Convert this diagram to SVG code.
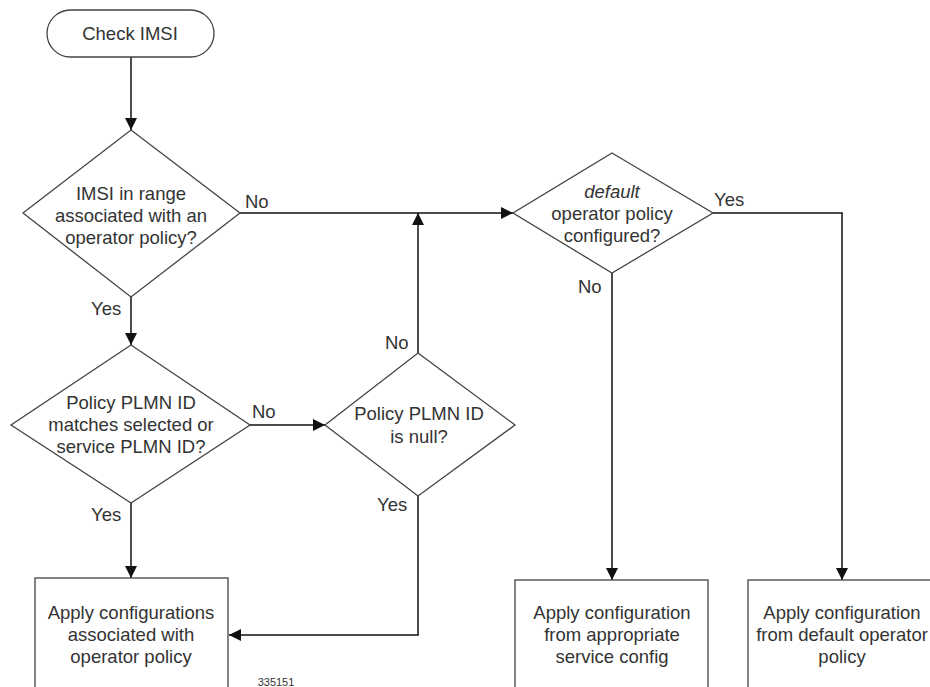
<svg xmlns="http://www.w3.org/2000/svg" width="930" height="687" viewBox="0 0 930 687">
<style>
text{font-family:"Liberation Sans",Arial,sans-serif;font-size:18.5px;fill:#333;text-anchor:middle}
.lbl{text-anchor:start}
.shape{fill:#fff;stroke:#444;stroke-width:1.3}
.conn{fill:none;stroke:#111;stroke-width:1.5}
</style>
<defs>
<marker id="arr" viewBox="0 0 12 12" refX="12" refY="6" markerWidth="12" markerHeight="12" markerUnits="userSpaceOnUse" orient="auto">
<path d="M0,0 L12,6 L0,12 z" fill="#111"/>
</marker>
</defs>
<rect width="930" height="687" fill="#fff"/>
<g id="connectors">
<path class="conn" d="M131,57 V130" marker-end="url(#arr)"/>
<path class="conn" d="M131,297 V345" marker-end="url(#arr)"/>
<path class="conn" d="M250,425 H325" marker-end="url(#arr)"/>
<path class="conn" d="M131,503 V578" marker-end="url(#arr)"/>
<path class="conn" d="M240,213 H513" marker-end="url(#arr)"/>
<path class="conn" d="M418,353 V213" marker-end="url(#arr)"/>
<path class="conn" d="M418,496 V635 H229" marker-end="url(#arr)"/>
<path class="conn" d="M612,273 V580" marker-end="url(#arr)"/>
<path class="conn" d="M713,213 H842 V580" marker-end="url(#arr)"/>
<text class="lbl" x="245" y="208">No</text>
<text class="lbl" x="91" y="315">Yes</text>
<text class="lbl" x="252" y="418">No</text>
<text class="lbl" x="91" y="521">Yes</text>
<text class="lbl" x="385" y="349">No</text>
<text class="lbl" x="377" y="511">Yes</text>
<text class="lbl" x="714" y="206">Yes</text>
<text class="lbl" x="578" y="293">No</text>
</g>
<g id="start">
<rect class="shape" x="47" y="10" width="167" height="47" rx="23.5"/>
<text x="130" y="40">Check IMSI</text>
</g>
<g id="d1">
<polygon class="shape" points="131,130 240,213 131,297 23,213"/>
<text x="131" y="200">IMSI in range</text>
<text x="131" y="222">associated with an</text>
<text x="131" y="244">operator policy?</text>
</g>
<g id="d2">
<polygon class="shape" points="131,345 250,425 131,503 11,425"/>
<text x="131" y="409">Policy PLMN ID</text>
<text x="131" y="431">matches selected or</text>
<text x="131" y="453">service PLMN ID?</text>
</g>
<g id="d3">
<polygon class="shape" points="418,353 515,425 418,496 325,425"/>
<text x="419" y="420">Policy PLMN ID</text>
<text x="419" y="443">is null?</text>
</g>
<g id="d4">
<polygon class="shape" points="612,153 713,213 612,273 513,213"/>
<text x="612" y="198" font-style="italic">default</text>
<text x="612" y="220">operator policy</text>
<text x="612" y="242">configured?</text>
</g>
<g id="box1">
<rect class="shape" x="35" y="578" width="193" height="130"/>
<text x="131" y="619">Apply configurations</text>
<text x="131" y="641">associated with</text>
<text x="131" y="663">operator policy</text>
</g>
<g id="box2">
<rect class="shape" x="515" y="580" width="193" height="130"/>
<text x="612" y="619">Apply configuration</text>
<text x="612" y="641">from appropriate</text>
<text x="612" y="663">service config</text>
</g>
<g id="box3">
<rect class="shape" x="748" y="580" width="200" height="130"/>
<text x="842" y="619">Apply configuration</text>
<text x="842" y="641">from default operator</text>
<text x="842" y="663">policy</text>
</g>
<text x="276" y="686" style="font-size:11px">335151</text>
</svg>
